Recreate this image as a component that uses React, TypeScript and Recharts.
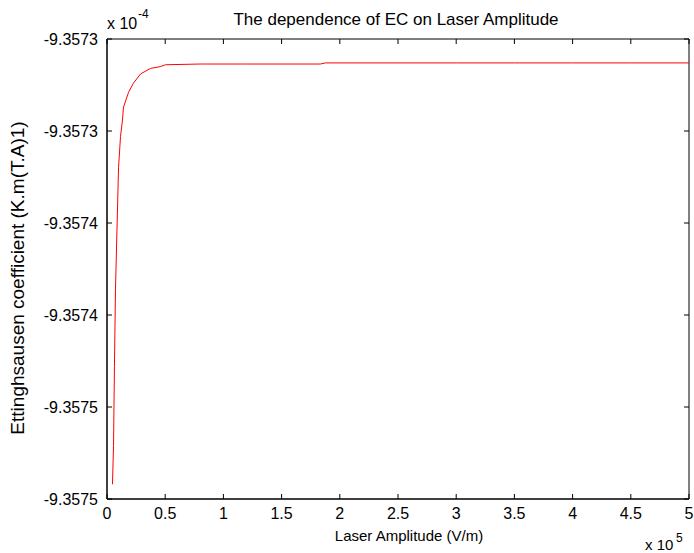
import { Line, LineChart, ReferenceArea, XAxis, YAxis } from 'recharts';

// laser amplitude in units of 1e5 V/m
const xValues = [
  0.047, 0.056, 0.064, 0.073, 0.082, 0.09, 0.099, 0.116, 0.133, 0.142, 0.185, 0.227, 0.288, 0.373,
  0.459, 0.502, 0.803, 1.2, 1.833, 1.876, 2.5, 3, 3.5, 4, 4.5, 5,
];
// Ettingshausen coefficient in units of 1e-4
const yValues = [
  -9.357492, -9.357471, -9.357428, -9.357386, -9.357363, -9.357343, -9.35732, -9.357303, -9.357294,
  -9.357287, -9.357279, -9.357274, -9.357269, -9.357266, -9.357265, -9.357264, -9.3572636,
  -9.3572636, -9.3572636, -9.357263, -9.357263, -9.357263, -9.357263, -9.357263, -9.357263,
  -9.357263,
];

const xTicks = [0, 0.5, 1, 1.5, 2, 2.5, 3, 3.5, 4, 4.5, 5];
const yTicks = [-9.3575, -9.35745, -9.3574, -9.35735, -9.3573, -9.35725];
const yTickLabels = ['-9.3575', '-9.3575', '-9.3574', '-9.3574', '-9.3573', '-9.3573'];

const FONT = '"Liberation Sans", Arial, sans-serif';
const W = 694;
const H = 553;
const M = { top: 39, right: 5, bottom: 0, left: 0 };
const Y_AXIS_W = 107;
const X_AXIS_H = 54;
const PLOT_W = W - M.left - M.right - Y_AXIS_W;
const PLOT_H = H - M.top - M.bottom - X_AXIS_H;
const GAP = 9; // tick label distance from axis
const TICK = 5; // inward tick length

// bottom tick: label + inward tick marks on bottom and top edges
const XTick = (props: any) => {
  const { x, y, payload } = props;
  const axisY = y - GAP;
  return (
    <g>
      <line x1={x} y1={axisY} x2={x} y2={axisY - TICK} stroke="#000" />
      <line x1={x} y1={axisY - PLOT_H} x2={x} y2={axisY - PLOT_H + TICK} stroke="#000" />
      <text x={x} y={y} dy="0.71em" textAnchor="middle" fontSize={16} fontFamily={FONT} fill="#000">
        {payload.value}
      </text>
    </g>
  );
};

// left tick: label + inward tick marks on left and right edges
const YTick = (props: any) => {
  const { x, y, index } = props;
  const axisX = x + GAP;
  return (
    <g>
      <line x1={axisX} y1={y} x2={axisX + TICK} y2={y} stroke="#000" />
      <line x1={axisX + PLOT_W} y1={y} x2={axisX + PLOT_W - TICK} y2={y} stroke="#000" />
      <text x={x} y={y} dy="0.355em" textAnchor="end" fontSize={16} fontFamily={FONT} fill="#000">
        {yTickLabels[index]}
      </text>
    </g>
  );
};

export default function App() {
  const data = xValues.map((x, i) => ({ x, y: yValues[i] }));

  return (
    <div style={{ position: 'absolute', left: 0, top: 0, width: W, height: H, background: '#fff' }}>
      <LineChart width={W} height={H} data={data} margin={M}>
        <XAxis
          dataKey="x"
          type="number"
          domain={[0, 5]}
          ticks={xTicks}
          height={X_AXIS_H}
          tickSize={0}
          tickMargin={GAP}
          tickLine={false}
          stroke="#000"
          tick={<XTick />}
          interval={0}
        />
        <YAxis
          type="number"
          domain={[-9.3575, -9.35725]}
          allowDataOverflow
          ticks={yTicks}
          width={Y_AXIS_W}
          tickSize={0}
          tickMargin={GAP}
          tickLine={false}
          stroke="#000"
          tick={<YTick />}
          interval={0}
        />
        <ReferenceArea
          x1={0}
          x2={5}
          y1={-9.3575}
          y2={-9.35725}
          stroke="#000"
          strokeWidth={1}
          fill="none"
          fillOpacity={0}
          ifOverflow="visible"
        />
        <Line
          type="linear"
          dataKey="y"
          stroke="#ff0000"
          strokeWidth={1}
          dot={false}
          isAnimationActive={false}
        />
      </LineChart>
      <svg
        width={W}
        height={H}
        style={{ position: 'absolute', left: 0, top: 0, pointerEvents: 'none' }}
        fontFamily={FONT}
      >
        <text x={396} y={25} textAnchor="middle" fontSize={17}>
          The dependence of EC on Laser Amplitude
        </text>
        <text x={107} y={29} fontSize={16}>
          x 10
        </text>
        <text x={138} y={18} fontSize={12}>
          -4
        </text>
        <text x={409} y={541} textAnchor="middle" fontSize={15}>
          Laser Amplitude (V/m)
        </text>
        <text x={645} y={550} fontSize={15}>
          x 10
        </text>
        <text x={676} y={542} fontSize={12}>
          5
        </text>
        <text x={24} y={278} textAnchor="middle" fontSize={19} transform="rotate(-90 24 278)">
          Ettinghsausen coefficient (K.m(T.A)1)
        </text>
      </svg>
    </div>
  );
}
